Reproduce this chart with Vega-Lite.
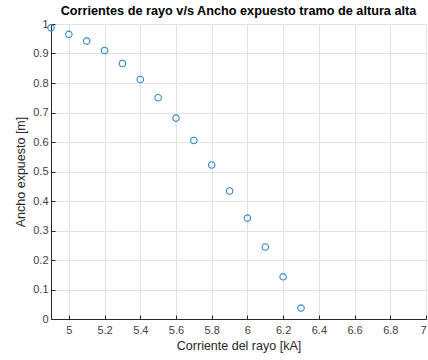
{
  "$schema": "https://vega.github.io/schema/vega-lite/v6.json",
  "autosize": {"type": "none"},
  "padding": {"left": 51, "top": 24, "right": 2, "bottom": 41},
  "width": 375,
  "height": 295,
  "title": {
    "text": "Corrientes de rayo v/s Ancho expuesto tramo de altura alta",
    "font": "Liberation Sans",
    "fontSize": 12.7,
    "fontWeight": "bold",
    "color": "#000000",
    "offset": 0,
    "anchor": "middle"
  },
  "config": {
    "view": {"stroke": null},
    "axis": {
      "labelFont": "Liberation Sans",
      "titleFont": "Liberation Sans",
      "labelFontSize": 11,
      "titleFontSize": 12.5,
      "labelColor": "#404040",
      "titleColor": "#262626",
      "titleFontWeight": "normal",
      "domainColor": "#262626",
      "tickColor": "#262626",
      "gridColor": "#e3e3e3",
      "tickSize": -4,
      "format": "~g"
    }
  },
  "data": {
    "values": [
      {"x": 4.9, "y": 0.987},
      {"x": 5.0, "y": 0.965},
      {"x": 5.1, "y": 0.942},
      {"x": 5.2, "y": 0.910},
      {"x": 5.3, "y": 0.866},
      {"x": 5.4, "y": 0.812},
      {"x": 5.5, "y": 0.750},
      {"x": 5.6, "y": 0.681},
      {"x": 5.7, "y": 0.605},
      {"x": 5.8, "y": 0.522},
      {"x": 5.9, "y": 0.434},
      {"x": 6.0, "y": 0.342},
      {"x": 6.1, "y": 0.244},
      {"x": 6.2, "y": 0.143},
      {"x": 6.3, "y": 0.037}
    ]
  },
  "mark": {"type": "point", "shape": "circle", "filled": false, "color": "#2f86cc", "strokeWidth": 1.1, "size": 42, "opacity": 1},
  "encoding": {
    "x": {
      "field": "x",
      "type": "quantitative",
      "scale": {"domain": [4.9, 7], "nice": false, "zero": false},
      "axis": {
        "title": "Corriente del rayo [kA]",
        "values": [5, 5.2, 5.4, 5.6, 5.8, 6, 6.2, 6.4, 6.6, 6.8, 7],
        "format": "~g",
        "labelPadding": 9,
        "titlePadding": 4
      }
    },
    "y": {
      "field": "y",
      "type": "quantitative",
      "scale": {"domain": [0, 1], "nice": false},
      "axis": {
        "title": "Ancho expuesto [m]",
        "values": [0, 0.1, 0.2, 0.3, 0.4, 0.5, 0.6, 0.7, 0.8, 0.9, 1],
        "format": "~g",
        "labelPadding": 7,
        "titlePadding": 5
      }
    }
  }
}
